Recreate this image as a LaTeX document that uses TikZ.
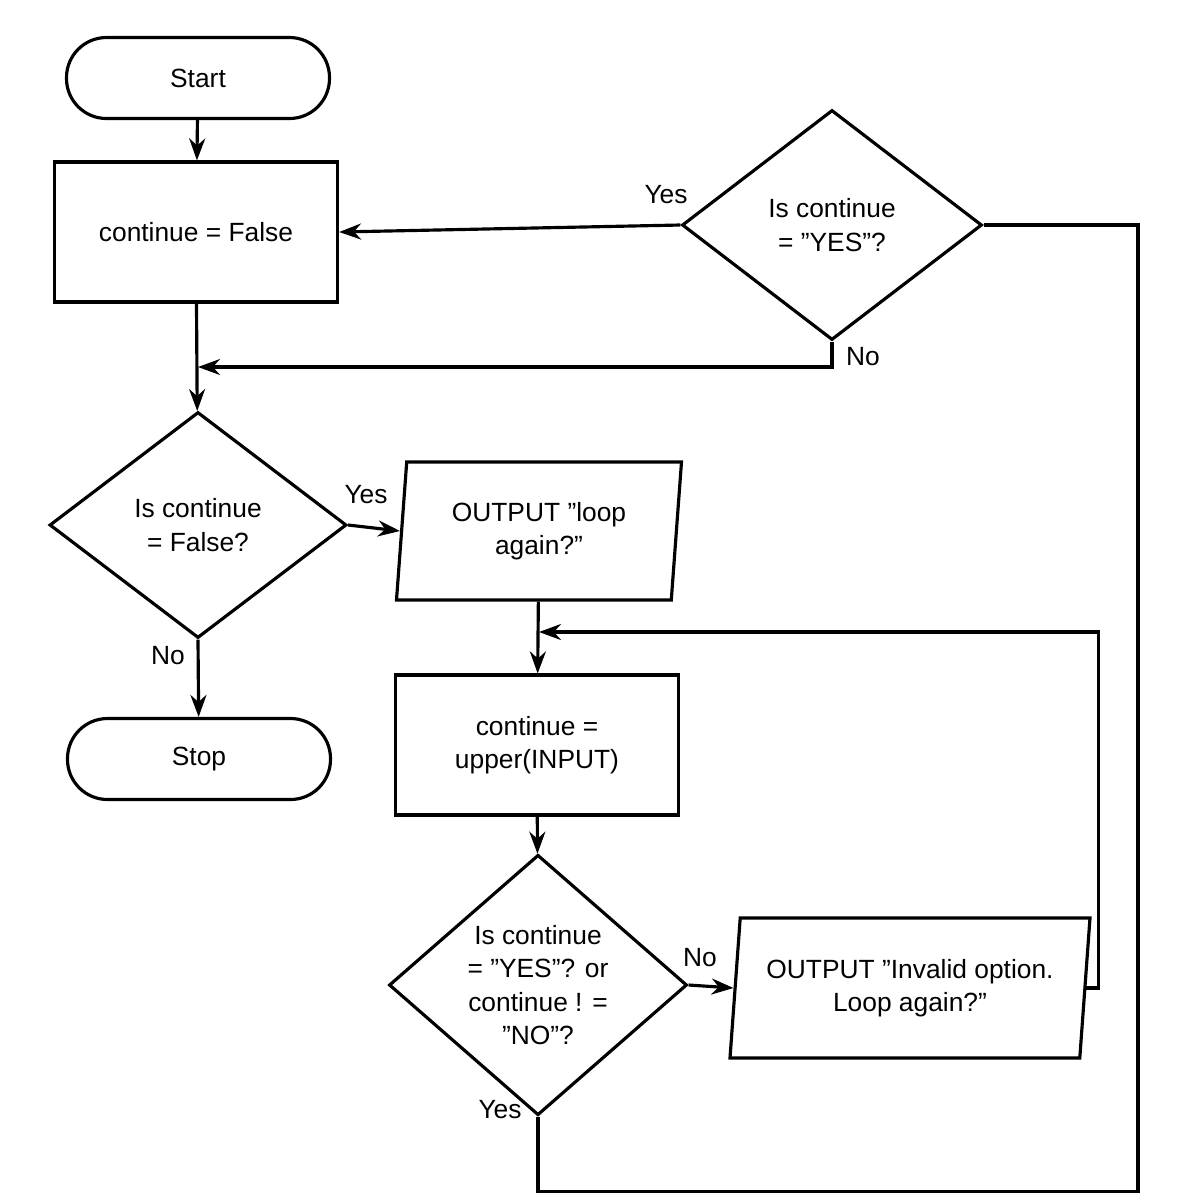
\documentclass[tikz,border=0pt]{standalone}
\usepackage{fontspec}
\setmainfont{Liberation Sans}
\usetikzlibrary{arrows.meta, shapes.geometric}
\tikzset{
  box/.style={draw, line width=0.9pt, rectangle, align=center, inner sep=0pt},
  term/.style={box, rounded corners=0.4cm, minimum width=2.63cm, minimum height=0.81cm},
  proc/.style={box, minimum width=2.83cm, minimum height=1.4cm},
  dec/.style={draw, line width=0.9pt, diamond, align=center, inner sep=0pt},
  io/.style={draw, line width=0.9pt, trapezium, trapezium left angle=80, trapezium right angle=100, trapezium stretches body, align=center, inner sep=0pt},
  link/.style={line width=0.9pt, -{Stealth[length=2.2mm, width=1.6mm]}},
  line/.style={line width=0.9pt},
  lbl/.style={font=\fontsize{7.5}{9}\selectfont}
}
\begin{document}
\begin{tikzpicture}[font=\fontsize{7.5}{9.5}\selectfont]
\useasboundingbox (0,0) rectangle (11.78,-12);
% shapes
\node[term] (start) at (1.98,-0.78) {Start};
\node[proc] (init) at (1.96,-2.32) {continue = False};
\node[dec, minimum width=3.0cm, minimum height=2.3cm] (askyes) at (8.32,-2.25) {Is continue\\= "YES"?};
\node[dec, minimum width=2.97cm, minimum height=2.26cm] (askfalse) at (1.98,-5.25) {Is continue\\= False?};
\node[io, minimum width=2.85cm, minimum height=1.38cm] (loop) at (5.39,-5.31) {OUTPUT "loop\\again?"};
\node[term] (stop) at (1.99,-7.59) {Stop};
\node[proc] (read) at (5.37,-7.45) {continue =\\upper(INPUT)};
\node[dec, minimum width=2.98cm, minimum height=2.3cm] (check) at (5.38,-9.85) {Is continue\\= "YES"? or\\continue ! =\\"NO"?};
\node[io, minimum width=3.6cm, minimum height=1.4cm] (invalid) at (9.1,-9.88) {OUTPUT "Invalid option.\\Loop again?"};
% helper points
\coordinate (noin) at (1.98,-3.67);
\coordinate (loopin) at (5.39,-6.32);
% connectors
\draw[link] (start) -- (init);
\draw[link] (askyes.west) -- (init.east);
\draw[link] (askyes.south) |- (noin);
\draw[link] (init) -- (askfalse);
\draw[link] (askfalse.east) -- (loop.west);
\draw[link] (askfalse.south) -- (stop);
\draw[link] (loop) -- (read);
\draw[link] (read) -- (check);
\draw[link] (check.east) -- (invalid.west);
\draw[link] (invalid.east) -- ++(0.12,0) |- (loopin);
\draw[line] (check.south) -- ++(0,-0.75) -| (11.38,-2.25) -- (askyes.east);
% labels
\node[lbl] (l1) at (6.66,-1.95) {Yes};
\node[lbl] (l2) at (8.63,-3.57) {No};
\node[lbl] (l3) at (3.66,-4.95) {Yes};
\node[lbl] (l4) at (1.68,-6.56) {No};
\node[lbl] (l5) at (7.0,-9.58) {No};
\node[lbl] (l6) at (5.0,-11.1) {Yes};
\end{tikzpicture}
\end{document}
